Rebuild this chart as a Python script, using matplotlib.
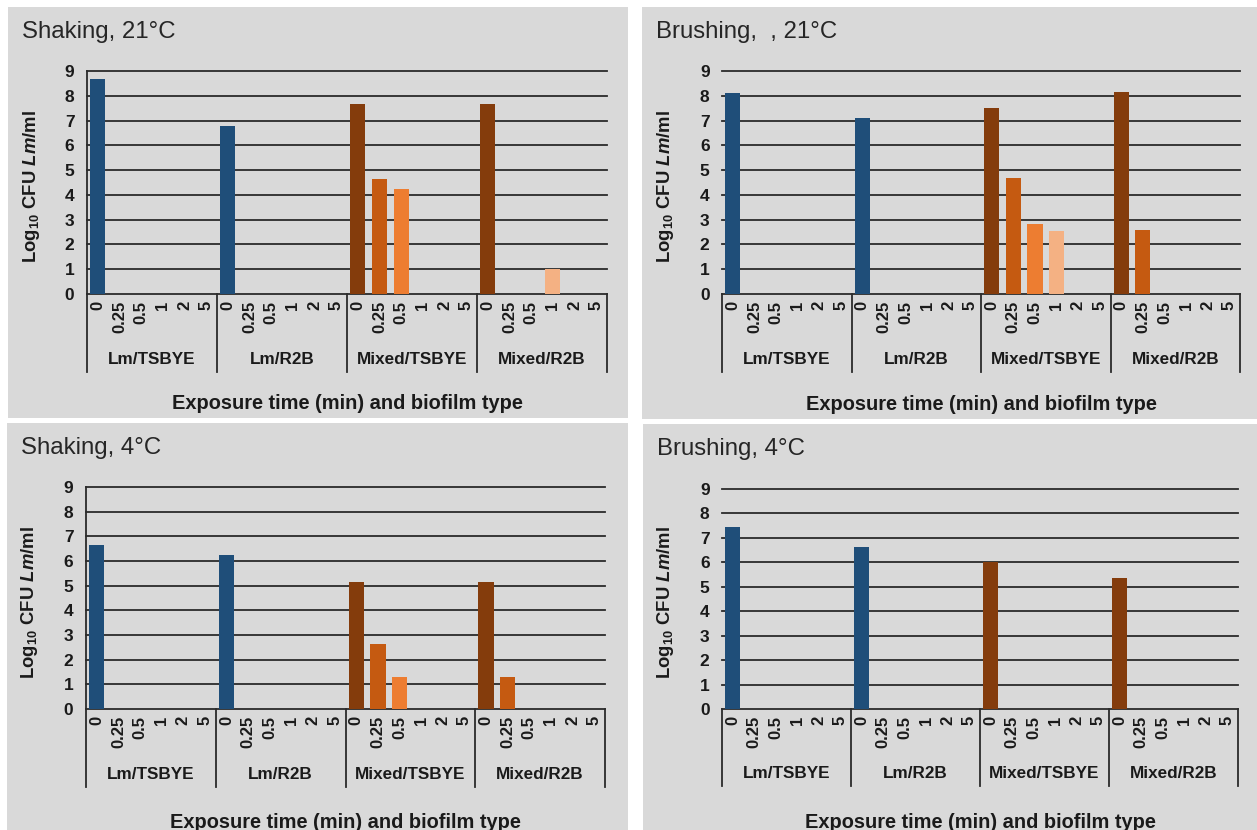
import numpy as np
import matplotlib.pyplot as plt
from matplotlib.patches import Rectangle
from matplotlib.transforms import blended_transform_factory

plt.rcParams['font.family'] = ['Liberation Sans', 'DejaVu Sans']
plt.rcParams['mathtext.fontset'] = 'custom'
plt.rcParams['mathtext.rm'] = 'Liberation Sans:bold'
plt.rcParams['mathtext.it'] = 'Liberation Sans:italic:bold'
plt.rcParams['mathtext.bf'] = 'Liberation Sans:bold'

nan = np.nan
times = ['0', '0.25', '0.5', '1', '2', '5']
groups = ['Lm/TSBYE', 'Lm/R2B', 'Mixed/TSBYE', 'Mixed/R2B']

# log10 CFU Lm/ml per biofilm type, one value per exposure time (nan = no bar)
shaking_21 = [[8.68, nan, nan, nan, nan, nan],
              [6.77, nan, nan, nan, nan, nan],
              [7.65, 4.64, 4.23, nan, nan, nan],
              [7.65, nan, nan, 1.0, nan, nan]]
brushing_21 = [[8.13, nan, nan, nan, nan, nan],
               [7.09, nan, nan, nan, nan, nan],
               [7.5, 4.67, 2.83, 2.54, nan, nan],
               [8.14, 2.6, nan, nan, nan, nan]]
shaking_4 = [[6.63, nan, nan, nan, nan, nan],
             [6.23, nan, nan, nan, nan, nan],
             [5.13, 2.62, 1.3, nan, nan, nan],
             [5.13, 1.3, nan, nan, nan, nan]]
brushing_4 = [[7.45, nan, nan, nan, nan, nan],
              [6.63, nan, nan, nan, nan, nan],
              [6.02, nan, nan, nan, nan, nan],
              [5.36, nan, nan, nan, nan, nan]]

lm_color = '#1F4E79'
mixed_colors = ['#843C0C', '#C55A11', '#ED7D31', '#F4B183', '#F8CBAD', '#FBE5D6']

W, H = 1257, 830
fig = plt.figure(figsize=(W / 100, H / 100), dpi=100)
fig.patch.set_facecolor('white')


def px(x0, y0, x1, y1):
    # pixel box (top-left origin) -> figure fraction rect
    return [x0 / W, 1 - y1 / H, (x1 - x0) / W, (y1 - y0) / H]


# title, data, background box, axes box, ylabel pos, xlabel y, left spine
panels = [
    ('Shaking, 21°C', shaking_21, (8, 7, 628, 418), (87, 71, 607, 294), (32, 186), 403, True),
    ('Brushing,  , 21°C', brushing_21, (642, 7, 1257, 419), (722, 71, 1240, 294), (666, 186), 404, False),
    ('Shaking, 4°C', shaking_4, (7, 423, 628, 830), (86, 487, 605, 709), (30, 602), 822, True),
    ('Brushing, 4°C', brushing_4, (643, 424, 1257, 830), (722, 489, 1238, 709), (666, 602), 822, False),
]

ink = '#1a1a1a'
n_t = len(times)
for title, data, bg, box, ylab, xlab_y, left_spine in panels:
    fig.add_artist(Rectangle((bg[0] / W, 1 - bg[3] / H), (bg[2] - bg[0]) / W, (bg[3] - bg[1]) / H,
                             transform=fig.transFigure, facecolor='#D9D9D9', edgecolor='none', zorder=0))
    fig.text((bg[0] + 14) / W, 1 - (bg[1] + 25) / H, title, fontsize=17.3, color='#262626',
             ha='left', va='center')

    ax = fig.add_axes(px(*box))
    ax.set_facecolor('none')

    for g, vals in enumerate(data):
        for t, v in enumerate(vals):
            if np.isnan(v):
                continue
            c = lm_color if g < 2 else mixed_colors[t]
            ax.bar(g * n_t + t, v, width=0.7, color=c, zorder=3)

    ax.set_xlim(-0.5, len(groups) * n_t - 0.5)
    ax.set_ylim(0, 9)
    for yv in range(1, 10):
        ax.axhline(yv, color='#2b2b2b', lw=1.3, zorder=1, clip_on=False)

    ax.set_yticks(range(10))
    ax.set_yticklabels([str(i) for i in range(10)], fontsize=12.5, fontweight='bold', color=ink)
    ax.set_xticks(range(len(groups) * n_t))
    ax.set_xticklabels(times * len(groups), rotation=90, fontsize=12, fontweight='bold', color=ink)
    ax.tick_params(axis='both', length=0)
    ax.tick_params(axis='y', pad=9)
    ax.tick_params(axis='x', pad=5)

    for s in ['top', 'right']:
        ax.spines[s].set_visible(False)
    ax.spines['left'].set_visible(left_spine)
    ax.spines['left'].set_color('#2b2b2b')
    ax.spines['left'].set_linewidth(1.3)
    ax.spines['bottom'].set_color('#2b2b2b')
    ax.spines['bottom'].set_linewidth(1.3)

    # group dividers and group names under the time labels
    tr = blended_transform_factory(ax.transData, ax.transAxes)
    for k in range(len(groups) + 1):
        xb = k * n_t - 0.5
        ax.plot([xb, xb], [0, -0.35], transform=tr, color='#2b2b2b', lw=1.3, clip_on=False)
    for k, name in enumerate(groups):
        ax.text(k * n_t + (n_t - 1) / 2, -0.295, name, transform=tr, ha='center', va='center',
                fontsize=12.3, fontweight='bold', color=ink)

    fig.text(ylab[0] / W, 1 - ylab[1] / H, r'$\mathrm{Log_{10}\ CFU\ }\mathit{Lm}\mathrm{/ml}$',
             rotation=90, ha='center', va='center', fontsize=13.3, color=ink)
    fig.text((box[0] + box[2]) / 2 / W, 1 - xlab_y / H, 'Exposure time (min) and biofilm type',
             ha='center', va='center', fontsize=14.4, fontweight='bold', color=ink)

fig.savefig('out.png', dpi=100)
